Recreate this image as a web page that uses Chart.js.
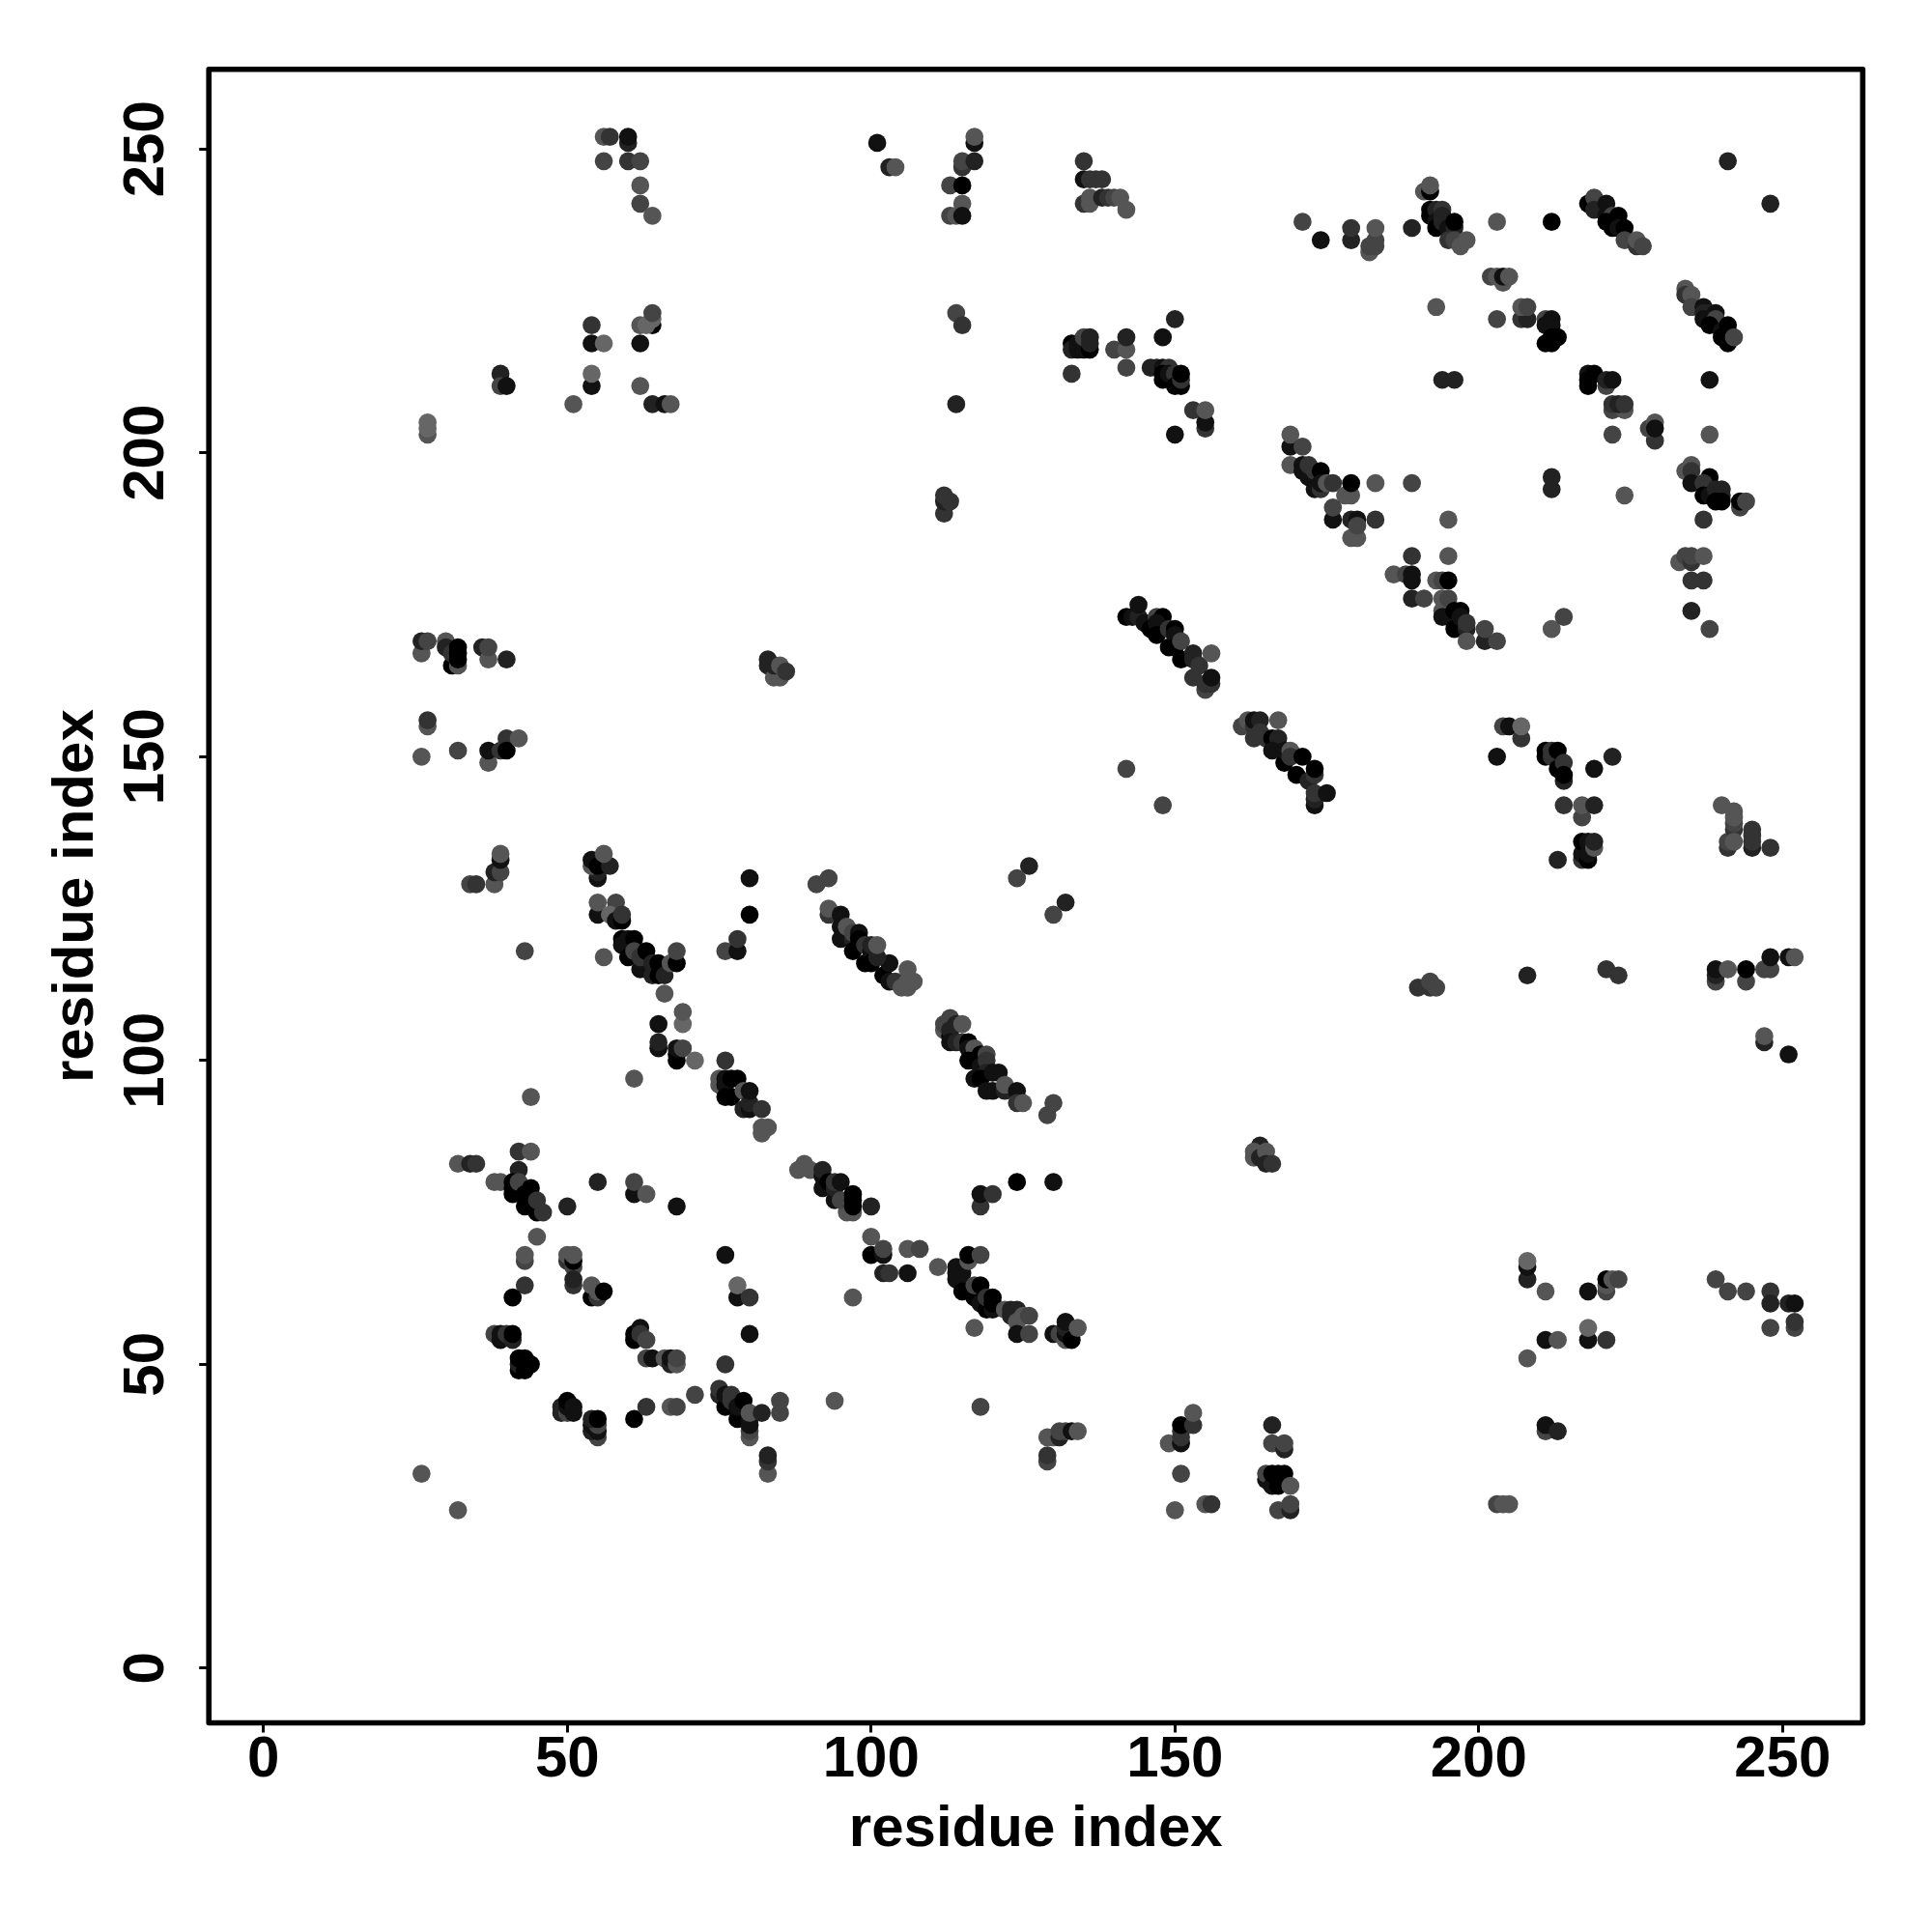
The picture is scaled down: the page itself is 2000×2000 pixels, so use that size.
<!DOCTYPE html>
<html>
<head>
<meta charset="utf-8">
<style>html,body{margin:0;padding:0;background:#fff}canvas{display:block}</style>
<script src="https://cdn.jsdelivr.net/npm/chart.js@4"></script>
</head>
<body>
<div style="width:2000px;height:2000px"><canvas id="c" width="2000" height="2000"></canvas></div>
<script>
const tickValues = [0, 50, 100, 150, 200, 250];
const axisTitle = "residue index";

const residueX = [
56,57,60,60,56,60,62,62,62,64,
64,64,62,63,64,54,54,56,62,39,39,40,54,54,62,51,64,66,67,
27,27,27,
101,103,104,117,117,115,115,117,113,115,115,113,114,115,
135,135,136,137,138,135,136,136,138,139,140,141,142,
171,174,179,179,182,182,183,183,183,189,
114,115,
133,133,134,134,135,135,136,136,136,133,
140,142,142,142,148,150,
146,147,148,149,148,148,149,150,150,151,151,151,
153,155,155,155,150,114,112,112,112,113,
169,169,171,169,171,171,172,173,172,173,174,174,174,175,176,178,179,179,176,176,179,180,179,180,180,183,195,183,189,
191,192,192,192,192,193,194,193,193,194,194,195,196,196,195,196,197,198,203,212,
218,219,219,221,221,222,223,221,222,223,224,224,226,226,227,241,248,
202,203,204,204,205,193,203,207,208,207,208,
211,212,211,212,211,212,212,213,194,196,238,
218,219,218,218,221,221,222,222,224,222,223,224,222,229,228,229,229,238,
234,234,235,235,237,237,238,237,239,239,238,240,241,241,240,241,242,
234,235,235,235,238,237,237,238,239,240,240,239,240,243,243,244,237,
212,212,224,
189,195,233,234,235,235,237,235,237,186,188,189,189,193,194,195,
189,191,194,194,194,195,195,196,196,197,197,198,198,198,201,201,203,212,214,235,238,
204,205,207,207,203,211,211,212,212,213,213,214,214,214,219,222,214,217,217,219,
217,217,217,218,218,218,219,219,213,
240,245,245,245,245,248,241,241,242,242,242,242,242,
190,192,192,193,208,221,223,239,239,239,241,244,244,247,248,248,251,252,247,247,251,
26,26,27,30,30,31,32,31,32,32,32,36,37,37,40,27,27,26,32,37,37,39,40,40,42,
83,83,84,85,84,85,86,
34,35,38,38,39,39,39,
55,55,54,54,55,57,56,
55,55,58,57,58,59,59,
59,59,60,61,60,61,62,62,63,64,64,65,65,66,67,68,68,66,43,56,
69,69,65,65,65,68,68,68,69,71,80,80,76,78,78,91,93,
93,93,95,95,95,96,97,97,97,98,98,99,99,100,100,100,102,103,101,101,103,104,105,106,106,106,107,
142,143,144,144,145,147,148,146,147,147,149,150,149,150,150,151,151,153,153,153,154,156,155,155,156,156,
161,162,163,163,163,164,164,165,167,166,167,166,168,168,169,169,170,171,172,173,173,173,173,173,175,142,148,
126,124,132,130,
112,113,112,114,113,113,115,113,114,115,116,116,117,116,117,118,118,119,119,119,117,118,119,120,120,121,122,122,124,124,125,129,130,
76,61,44,75,75,76,76,77,76,77,78,79,79,80,80,80,82,82,82,83,
88,89,90,92,92,92,93,94,94,94,95,96,97,95,97,97,97,100,
32,34,35,42,44,42,38,39,41,41,41,42,43,43,44,44,45,45,46,50,45,55,61,61,63,68,
43,43,50,50,51,51,51,51,51,43,41,54,54,55,55,56,76,78,78,80,97,80,
61,61,62,62,63,63,64,66,67,67,68,68,76,
38,39,39,40,41,41,42,42,42,43,43,44,
49,49,50,50,50,51,51,55,54,55,54,55,54,55,61,63,67,68,71,
75,75,76,76,77,77,78,78,79,80,80,80,80,80,82,85,85,83,83,83,94,26,32,
100,100,102,103,102,102,106,106,108,
111,114,114,114,115,115,115,116,116,118,117,117,118,118,119,119,120,120,120,122,123,123,124,124,125,126,117,124,126,
130,131,132,132,132,133,132,134,118,
129,130,131,131,132,133,134,129,129,
149,151,151,151,151,153,153,151,150,155,156,
166,166,168,168,165,165,166,166,167,168,167,169,167,169,169,
164,163,163,164,165,165,166,124,130,118,118,120,
208,208,208,211,211,213,208,218,218,218,221,221,221,221,222,223,211,211,213,203,204,205,
239,241,244,248,248,251,252,248,252,252
];

const residueY = [
252,252,251,252,248,248,248,244,241,239,
221,222,221,221,223,221,218,218,218,213,211,211,211,213,211,208,208,208,208,
203,204,205,
251,247,247,251,252,247,248,248,244,244,241,239,239,239,
248,245,245,245,245,241,241,242,242,242,242,242,240,
238,235,235,237,233,234,234,235,237,237,
223,221,
218,217,217,218,217,219,217,218,219,213,
217,217,219,214,219,222,
214,214,214,214,212,213,213,213,211,211,212,213,
207,204,205,207,203,208,190,192,193,192,
201,203,201,198,198,197,196,194,198,197,197,194,195,195,195,193,193,195,189,191,186,186,189,189,188,189,189,195,195,
243,243,244,240,239,240,240,238,237,239,238,237,237,238,235,235,234,235,238,238,
241,242,240,241,239,239,239,238,237,237,237,235,234,235,234,248,241,
229,229,228,229,229,224,222,222,222,224,224,
222,222,221,221,218,218,219,219,212,212,212,
213,213,212,211,211,212,212,207,207,208,208,208,203,202,204,205,204,203,
227,226,226,224,224,223,223,222,223,222,221,220,220,221,219,218,219,
197,198,197,195,196,195,193,193,194,194,193,192,192,191,192,192,189,
194,196,193,
183,183,182,183,182,183,183,179,179,180,180,179,180,179,179,179,
176,176,174,173,176,176,173,174,171,174,173,171,172,169,169,171,169,171,173,174,171,
155,155,153,155,150,150,151,150,151,151,148,149,146,147,148,150,142,140,142,142,
133,134,136,133,134,136,135,136,133,
142,135,136,137,138,135,135,136,138,139,136,140,141,
112,112,113,112,114,115,114,113,114,115,115,113,115,115,115,117,117,117,103,104,101,
167,169,169,169,168,165,165,167,168,167,166,168,166,168,166,155,156,150,151,149,151,151,153,151,153,
166,165,163,163,165,165,164,
129,129,129,131,131,133,134,
130,131,132,133,132,132,134,
124,126,126,124,123,123,124,
120,119,120,120,117,118,115,117,118,114,116,114,116,114,116,116,118,111,118,117,
106,108,106,102,103,100,101,102,102,100,130,124,118,118,120,129,130,
124,125,124,122,120,122,120,118,121,121,120,116,119,118,119,116,114,116,117,119,113,113,112,113,112,115,113,
173,173,173,175,172,173,173,171,172,170,171,171,168,170,168,166,169,166,167,163,165,167,161,162,162,163,
155,156,155,153,156,156,154,153,156,153,153,151,149,151,151,150,147,150,146,147,148,142,143,144,144,148,142,
132,130,126,124,
105,107,106,106,104,105,106,103,103,103,103,102,102,100,100,101,99,101,100,98,97,97,95,95,98,98,95,96,95,93,93,91,93,
100,97,94,96,97,96,97,94,94,97,97,92,95,92,93,95,92,88,89,89,
82,83,82,79,81,82,80,77,79,80,80,75,75,77,76,77,78,76,
83,83,83,85,85,82,80,80,78,79,80,80,76,78,79,76,75,77,75,76,71,80,78,80,78,76,
67,68,67,68,66,67,68,63,64,63,61,61,63,61,62,62,68,61,63,61,61,55,
54,55,56,55,54,51,51,51,50,51,50,51,50,
55,54,55,55,54,55,49,50,51,49,51,50,
42,43,42,43,44,42,43,38,39,39,40,40,41,41,41,43,43,43,45,
45,46,43,45,45,44,41,43,44,38,39,40,41,42,42,42,44,32,34,35,44,32,26,
71,68,65,65,68,69,65,69,69,
66,64,65,66,65,63,62,67,68,68,61,63,63,60,59,61,59,60,61,59,58,59,59,57,58,58,56,55,55,
55,55,54,55,56,54,57,56,43,
38,38,38,39,39,39,39,34,35,
37,37,38,39,40,40,42,32,26,27,27,
40,37,36,37,31,32,30,32,32,32,30,30,26,26,27,
86,84,85,84,85,83,83,80,80,76,78,78,
64,66,67,62,54,54,51,62,54,56,54,62,63,64,64,64,39,40,39,27,27,27,
64,62,62,62,60,60,60,56,56,57
];

const shadeLevel = [
5,3,2,1,4,3,4,5,4,5,
0,6,5,6,4,3,1,6,1,2,4,1,1,6,5,5,2,1,5,
5,6,6,
1,2,5,1,5,3,4,2,4,0,5,4,5,1,
3,1,3,3,3,3,5,5,2,3,4,5,5,
4,1,2,3,5,4,4,4,5,2,
4,3,
0,2,1,1,1,4,0,2,2,3,
4,5,2,4,1,2,
2,2,1,3,0,0,1,3,0,0,3,0,
3,3,1,5,1,2,3,2,3,3,
1,5,4,5,1,1,1,1,3,3,0,3,1,5,3,5,5,0,1,4,5,5,2,1,4,3,5,5,4,
5,0,5,0,0,2,3,1,0,2,2,1,2,0,3,4,5,5,5,0,
0,4,2,1,1,4,0,0,0,1,0,4,3,5,4,2,2,
4,5,5,1,5,5,4,3,2,5,4,
4,1,1,1,0,0,0,0,2,2,1,
1,0,0,0,4,2,1,4,5,3,2,3,4,3,4,5,1,5,
5,3,5,4,1,2,2,1,1,4,0,1,1,0,0,0,4,
5,5,3,1,0,3,0,1,2,2,2,0,0,4,0,4,3,
2,2,5,
3,5,5,4,3,4,5,3,3,5,4,1,1,5,4,0,
2,4,5,1,5,4,1,0,0,0,1,2,3,5,2,4,4,5,4,2,4,
4,1,3,6,1,0,0,3,3,0,0,3,2,0,1,2,3,4,5,2,
3,1,0,0,1,1,5,2,2,
5,2,3,3,3,3,3,4,3,4,5,5,5,
3,3,4,4,2,3,3,4,2,1,5,4,0,4,4,1,1,5,2,5,1,
5,2,4,5,2,0,5,3,0,0,0,2,5,4,2,5,3,5,4,5,1,3,3,0,5,
2,2,5,5,2,5,3,
4,3,5,2,4,1,5,
1,2,5,1,0,2,5,
1,5,4,6,1,0,3,
0,1,1,0,0,4,1,3,0,2,2,0,0,2,5,0,4,5,4,5,
6,5,1,1,2,0,0,1,4,6,1,0,4,1,3,4,4,
3,5,1,1,1,5,2,0,4,1,0,0,3,1,2,0,0,1,2,5,1,3,5,5,5,5,5,
0,1,2,1,1,4,0,0,1,0,3,0,0,1,0,0,4,2,2,3,3,5,4,3,3,1,
4,5,3,3,1,2,3,3,5,0,2,1,0,1,5,3,0,0,2,3,0,1,2,3,1,4,4,
2,4,2,4,
5,4,4,2,0,2,5,1,2,3,0,1,5,0,0,0,1,4,3,2,1,0,1,1,1,1,2,5,1,3,5,4,4,
3,5,5,5,5,1,1,0,0,0,0,2,5,1,2,1,3,5,5,5,
5,5,5,1,1,2,0,1,2,3,1,5,5,4,0,0,0,2,
5,2,3,3,5,2,5,5,0,0,0,4,0,0,0,0,0,3,3,2,5,2,1,4,5,1,
4,5,3,5,4,0,5,3,2,3,0,0,5,3,5,0,1,1,6,3,5,1,
0,0,1,3,4,4,1,5,2,1,5,4,3,
4,1,1,3,2,0,0,2,0,0,0,0,
2,2,4,1,0,1,1,4,2,1,1,4,2,0,0,3,5,4,4,
2,3,0,1,3,3,0,1,0,5,4,1,1,5,2,4,4,5,3,2,5,5,5,
5,0,2,3,1,4,1,5,4,
5,1,1,1,1,1,0,5,0,4,0,4,0,1,0,3,1,0,0,5,2,2,2,5,5,4,5,1,4,
1,4,5,1,2,0,1,5,4,
5,5,2,4,4,1,5,4,3,
5,1,3,3,0,3,5,4,5,5,3,
2,4,2,4,1,4,1,0,0,0,0,5,4,2,4,
2,5,5,2,5,2,3,0,1,3,1,3,
2,1,6,5,1,5,5,1,1,6,3,4,5,0,5,4,4,1,2,4,5,5,
4,4,4,3,2,2,1,4,4,3
];

if (residueX.length !== residueY.length || residueX.length !== shadeLevel.length) {
  console.error("length mismatch", residueX.length, residueY.length, shadeLevel.length);
}

const points = residueX.map((x, i) => ({ x, y: residueY[i] }));
const grayOf = s => { const h = (s * 17).toString(16).padStart(2, "0"); return "#" + h + h + h; };
const fontFamily = '"Liberation Sans", Arial, sans-serif';

const framePlugin = {
  id: "frame",
  afterDatasetsDraw(chart) {
    const { ctx, chartArea: a } = chart;
    ctx.save();
    ctx.strokeStyle = "#000";
    ctx.lineWidth = 5.6;
    ctx.lineJoin = "round";
    ctx.strokeRect(a.left, a.top, a.right - a.left, a.bottom - a.top);
    ctx.restore();
  }
};

const keepTicks = s => { s.ticks = tickValues.map(v => ({ value: v })); };
const tickGrid = { display: true, drawOnChartArea: false, drawTicks: true, tickLength: 10, tickWidth: 3, tickColor: "#000" };

new Chart(document.getElementById("c"), {
  type: "scatter",
  data: {
    datasets: [{
      data: points,
      backgroundColor: shadeLevel.map(grayOf),
      borderWidth: 0,
      pointRadius: 9.35,
      pointHoverRadius: 9.35
    }]
  },
  plugins: [framePlugin],
  options: {
    responsive: false,
    animation: false,
    events: [],
    layout: { padding: { left: 0, top: 71.8, right: 71.7, bottom: 0 } },
    plugins: { legend: { display: false }, tooltip: { enabled: false } },
    scales: {
      x: {
        type: "linear", min: -9, max: 263.2,
        afterBuildTicks: keepTicks,
        afterFit: s => { s.height = 216.5; },
        grid: tickGrid,
        border: { display: false },
        ticks: { autoSkip: false, maxRotation: 0, color: "#000", padding: -7, font: { family: fontFamily, weight: "bold", size: 60 } },
        title: { display: true, text: axisTitle, color: "#000", padding: { top: 0, bottom: 70 }, font: { family: fontFamily, weight: "bold", size: 60 } }
      },
      y: {
        type: "linear", min: -9, max: 263.1,
        afterBuildTicks: keepTicks,
        afterFit: s => { s.width = 216.2; },
        grid: tickGrid,
        border: { display: false },
        ticks: { autoSkip: false, minRotation: 90, maxRotation: 90, crossAlign: "center", color: "#000", padding: 4, font: { family: fontFamily, weight: "bold", size: 60 } },
        title: { display: true, text: axisTitle, color: "#000", padding: { top: 43.5, bottom: 0 }, font: { family: fontFamily, weight: "bold", size: 60 } }
      }
    }
  }
});
</script>
</body>
</html>
